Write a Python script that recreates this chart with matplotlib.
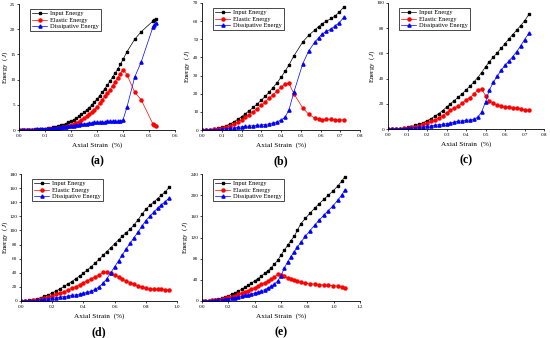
import matplotlib
matplotlib.use("Agg")
import matplotlib.pyplot as plt

plt.rcParams['font.family'] = ['Liberation Serif', 'DejaVu Serif']
plt.rcParams['mathtext.fontset'] = 'custom'
plt.rcParams['mathtext.it'] = 'Liberation Serif:italic'
plt.rcParams['mathtext.rm'] = 'Liberation Serif'

# ---------------- 数据 (从图上读的) ----------------
# (a)
xa = [0.00, 0.01, 0.02, 0.03, 0.04, 0.05, 0.06, 0.07, 0.08, 0.09, 0.10, 0.11, 0.12, 0.13,
      0.14, 0.15, 0.16, 0.17, 0.18, 0.19, 0.20, 0.21, 0.22, 0.23, 0.24, 0.25, 0.26, 0.27,
      0.28, 0.29, 0.30, 0.31, 0.32, 0.33, 0.34, 0.35, 0.36, 0.37, 0.38, 0.39, 0.40,
      0.415, 0.445, 0.47, 0.515, 0.52, 0.525]
inp_a = [0.0, 0.01, 0.02, 0.03, 0.05, 0.07, 0.1, 0.13, 0.17, 0.22, 0.28, 0.35, 0.43, 0.52,
         0.63, 0.76, 0.91, 1.08, 1.27, 1.5, 1.75, 2.03, 2.35, 2.7, 3.08, 3.5, 3.95, 4.45,
         4.98, 5.55, 6.15, 6.8, 7.5, 8.2, 8.95, 9.7, 10.5, 11.3, 12.1, 13.0, 14.0,
         15.5, 18.0, 19.5, 21.6, 21.8, 22.0]
ela_a = [0.0, 0.0, 0.0, 0.0, 0.01, 0.01, 0.02, 0.03, 0.04, 0.06, 0.08, 0.11, 0.15, 0.19,
         0.25, 0.32, 0.41, 0.51, 0.63, 0.78, 0.95, 1.15, 1.39, 1.66, 1.96, 2.3, 2.68, 3.11,
         3.56, 4.05, 4.6, 5.28, 6.0, 6.65, 7.25, 7.95, 8.78, 9.6, 10.38, 11.2, 12.0,
         11.0, 7.5, 6.0, 1.2, 1.0, 0.8]
dis_a = [0.0, 0.01, 0.02, 0.03, 0.04, 0.06, 0.08, 0.1, 0.13, 0.16, 0.2, 0.24, 0.28, 0.33,
         0.38, 0.44, 0.5, 0.57, 0.64, 0.72, 0.8, 0.88, 0.96, 1.04, 1.12, 1.2, 1.27, 1.34,
         1.42, 1.5, 1.55, 1.52, 1.5, 1.55, 1.7, 1.75, 1.72, 1.7, 1.72, 1.8, 2.0,
         4.5, 10.5, 13.5, 20.4, 20.8, 21.2]

# (b)
xb = [0.00, 0.02, 0.04, 0.06, 0.08, 0.10, 0.12, 0.14, 0.16, 0.18, 0.20, 0.22, 0.24, 0.26,
      0.28, 0.30, 0.32, 0.34, 0.36, 0.38, 0.40, 0.42, 0.44,
      0.465, 0.51, 0.54, 0.57, 0.59, 0.61, 0.63, 0.655, 0.675, 0.695, 0.72]
inp_b = [0.0, 0.05, 0.2, 0.5, 0.9, 1.5, 2.3, 3.2, 4.4, 5.8, 7.3, 9.0, 10.7, 12.5,
         14.4, 16.4, 18.5, 20.9, 23.4, 26.0, 29.0, 32.3, 35.8,
         40.8, 48.5, 52.2, 55.0, 57.0, 58.7, 60.0, 61.5, 63.0, 65.0, 68.0]
ela_b = [0.0, 0.03, 0.15, 0.38, 0.65, 1.05, 1.6, 2.3, 3.2, 4.3, 5.6, 7.0, 8.5, 10.1,
         11.8, 13.6, 15.5, 17.5, 19.5, 21.5, 23.5, 25.3, 25.8,
         20.0, 12.2, 8.7, 6.6, 6.0, 5.5, 5.9, 5.8, 5.5, 5.5, 5.6]
dis_b = [0.0, 0.02, 0.05, 0.12, 0.25, 0.45, 0.65, 0.9, 1.15, 1.4, 1.7, 1.95, 2.2, 2.4,
         2.6, 2.8, 3.0, 3.4, 3.9, 4.5, 5.5, 7.0, 11.0,
         20.8, 36.5, 43.5, 48.3, 50.8, 53.0, 54.3, 55.8, 57.5, 59.2, 62.3]

# (c)
xc = [0.00, 0.02, 0.04, 0.06, 0.08, 0.10, 0.12, 0.14, 0.16, 0.18, 0.20, 0.22, 0.24, 0.26,
      0.28, 0.30, 0.32, 0.34, 0.36, 0.38, 0.40, 0.42, 0.44, 0.46, 0.48, 0.50, 0.52, 0.54,
      0.56, 0.58, 0.60, 0.62, 0.64, 0.66, 0.68, 0.70, 0.725]
inp_c = [0.0, 0.05, 0.15, 0.35, 0.7, 1.2, 1.9, 2.8, 3.8, 5.0, 6.5, 8.2, 10.1, 12.2,
         14.6, 17.3, 20.0, 22.6, 25.2, 28.0, 31.0, 34.0, 37.2, 40.8, 44.8, 49.3, 53.5, 57.0,
         60.5, 64.0, 67.8, 71.5, 75.0, 78.5, 82.0, 85.8, 91.5]
ela_c = [0.0, 0.03, 0.1, 0.25, 0.45, 0.75, 1.2, 1.8, 2.6, 3.6, 4.8, 6.0, 7.3, 8.8,
         10.6, 12.8, 14.8, 16.5, 18.3, 20.5, 23.0, 25.0, 27.5, 31.0, 31.8, 26.5, 22.5, 20.5,
         19.0, 18.3, 17.8, 17.5, 17.0, 16.5, 16.0, 15.2, 15.0]
dis_c = [0.0, 0.02, 0.05, 0.1, 0.25, 0.45, 0.7, 1.0, 1.3, 1.6, 2.0, 2.5, 3.0, 3.4,
         3.8, 4.2, 4.8, 5.5, 6.2, 6.5, 6.8, 7.2, 7.8, 9.3, 13.5, 21.5, 31.0, 37.0,
         42.0, 46.5, 50.5, 54.0, 57.5, 61.5, 66.0, 71.0, 76.5]

# (d)
xd = [0.0, 0.025, 0.05, 0.075, 0.1, 0.125, 0.15, 0.175, 0.2, 0.225, 0.25, 0.275, 0.3,
      0.325, 0.35, 0.375, 0.4, 0.425, 0.45, 0.475, 0.5, 0.525, 0.55, 0.575, 0.6, 0.625,
      0.65, 0.675, 0.7, 0.725, 0.75, 0.775, 0.8, 0.825, 0.85, 0.875, 0.9, 0.925, 0.95]
inp_d = [0.0, 0.3, 0.8, 1.7, 3.0, 4.6, 6.5, 8.8, 11.4, 14.2, 17.3, 20.6, 24.0,
         27.6, 31.4, 35.4, 39.6, 44.0, 48.7, 53.7, 59.0, 64.5, 70.0, 75.5, 81.0, 86.5,
         92.0, 97.0, 102.0, 108.0, 115.0, 123.0, 130.0, 135.5, 140.0, 145.0, 150.0, 155.0, 161.0]
ela_d = [0.0, 0.2, 0.5, 1.1, 1.9, 2.9, 4.2, 5.8, 7.6, 9.4, 11.3, 13.4, 15.6,
         18.0, 20.5, 23.2, 26.0, 28.8, 31.6, 34.3, 37.0, 40.5, 40.8, 39.5, 37.0, 34.0,
         31.0, 28.5, 26.0, 23.5, 21.5, 19.5, 17.8, 17.0, 16.8, 16.6, 16.5, 16.0, 15.7]
dis_d = [0.0, 0.1, 0.3, 0.6, 1.1, 1.7, 2.3, 3.0, 3.8, 4.6, 5.4, 6.2, 7.0,
         7.9, 8.8, 9.8, 11.0, 12.4, 14.0, 16.5, 20.0, 25.0, 31.5, 40.0, 48.5, 57.0,
         65.5, 74.0, 82.0, 90.0, 97.5, 106.0, 114.0, 120.0, 126.0, 131.5, 136.5, 141.0, 146.0]

# (e)
xe = [0.0, 0.025, 0.05, 0.075, 0.1, 0.125, 0.15, 0.175, 0.2, 0.225, 0.25, 0.275, 0.3,
      0.325, 0.35, 0.375, 0.4, 0.425, 0.45, 0.475, 0.5, 0.525, 0.55, 0.575, 0.6, 0.625,
      0.65, 0.675, 0.7, 0.725, 0.75,
      0.785, 0.82, 0.855, 0.89, 0.925, 0.96, 0.995, 1.03, 1.06, 1.085]
inp_e = [0.0, 0.3, 0.8, 1.5, 2.5, 3.8, 5.5, 7.6, 10.0, 12.6, 15.4, 18.5, 22.0,
         25.6, 29.5, 33.6, 38.0, 42.5, 47.0, 52.0, 57.0, 63.0, 69.5, 77.0, 87.0, 96.0,
         105.0, 114.0, 122.0, 134.0, 146.0,
         156.0, 166.0, 175.0, 184.0, 192.0, 200.0, 208.0, 217.0, 226.0, 235.0]
ela_e = [0.0, 0.2, 0.6, 1.1, 1.8, 2.7, 3.8, 5.2, 6.8, 8.5, 10.3, 12.3, 14.5,
         17.0, 19.6, 22.4, 25.4, 28.5, 31.5, 34.8, 38.0, 41.5, 45.5, 50.5, 50.0, 46.5,
         43.5, 41.0, 39.0, 37.0, 35.0,
         33.5, 32.5, 32.0, 31.0, 30.0, 29.5, 29.0, 28.0, 27.0, 25.5]
dis_e = [0.0, 0.1, 0.3, 0.6, 1.0, 1.6, 2.4, 3.3, 4.3, 5.3, 6.4, 7.6, 9.0,
         10.5, 12.0, 13.5, 15.0, 17.0, 19.0, 21.5, 24.5, 28.0, 32.0, 38.0, 48.0, 62.0,
         74.0, 84.0, 93.0, 102.0, 111.0,
         122.0, 133.0, 143.0, 153.0, 162.0, 171.0, 180.0, 190.0, 200.0, 210.0]

# 每个子图: 数据, 轴范围, 刻度, 面板标签, 位置(像素: 左, 上, 右, 下), y标签离轴距离(px)
panels = [
    (xa, inp_a, ela_a, dis_a, (0, 0.6), [0, 0.1, 0.2, 0.3, 0.4, 0.5, 0.6], (0, 25), [0, 5, 10, 15, 20, 25], "(a)", (19, 4, 175, 130), 9),
    (xb, inp_b, ela_b, dis_b, (0, 0.8), [0, 0.1, 0.2, 0.3, 0.4, 0.5, 0.6, 0.7, 0.8], (0, 70), [0, 10, 20, 30, 40, 50, 60, 70], "(b)", (202, 3, 360, 130), 10),
    (xc, inp_c, ela_c, dis_c, (0, 0.8), [0, 0.1, 0.2, 0.3, 0.4, 0.5, 0.6, 0.7, 0.8], (0, 100), [0, 20, 40, 60, 80, 100], "(c)", (388, 3, 544, 129), 11),
    (xd, inp_d, ela_d, dis_d, (0, 1.0), [0, 0.2, 0.4, 0.6, 0.8, 1.0], (0, 180), [0, 20, 40, 60, 80, 100, 120, 140, 160, 180], "(d)", (21, 174, 177, 301), 11),
    (xe, inp_e, ela_e, dis_e, (0, 1.2), [0, 0.2, 0.4, 0.6, 0.8, 1.0, 1.2], (0, 240), [0, 40, 80, 120, 160, 200, 240], "(e)", (202, 174, 360, 301), 12),
]

W, H = 550, 338
fig = plt.figure(figsize=(W / 100, H / 100), dpi=100)

for x, yi, ye, yd, xlim, xt, ylim, yt, tag, (l, t, r, b), lab_off in panels:
    ax = fig.add_axes([l / W, 1 - b / H, (r - l) / W, (b - t) / H])
    ax.plot(x, yi, "s-", c="black", lw=0.5, ms=2.0, label="Input Energy")
    ax.plot(x, ye, "o-", c="red", lw=0.5, ms=2.2, label="Elastic Energy")
    ax.plot(x, yd, "^-", c="blue", lw=0.5, ms=2.3, label="Dissipative Energy")
    ax.set_xlim(*xlim); ax.set_ylim(*ylim)
    ax.set_xticks(xt); ax.set_yticks(yt)
    ax.xaxis.set_major_formatter(matplotlib.ticker.FormatStrFormatter("%.1f"))
    for s in ("top", "right"):
        ax.spines[s].set_visible(False)
    for s in ("left", "bottom"):
        ax.spines[s].set_linewidth(0.6)
    ax.tick_params(labelsize=3.7, length=1.6, width=0.5, pad=1.0)
    ax.set_xlabel("Axial Strain  (%)", fontsize=5.2, labelpad=3)
    ax.set_ylabel(r"Energy  ($\it{J}$)", fontsize=5.0)
    ax.yaxis.set_label_coords(-lab_off / (r - l), 0.5)
    ax.legend(loc="upper left", bbox_to_anchor=(0.05, 0.985), fontsize=4.6, frameon=True,
              fancybox=False, edgecolor="black", framealpha=1, handlelength=2.4,
              borderpad=0.3, labelspacing=0.15, handletextpad=0.4).get_frame().set_linewidth(0.5)
    fig.text((l + r) / 2 / W, 1 - (b + 31) / H, tag, fontsize=8.5, fontweight="bold",
             ha="center", va="center")

fig.savefig("out.png", dpi=100)
